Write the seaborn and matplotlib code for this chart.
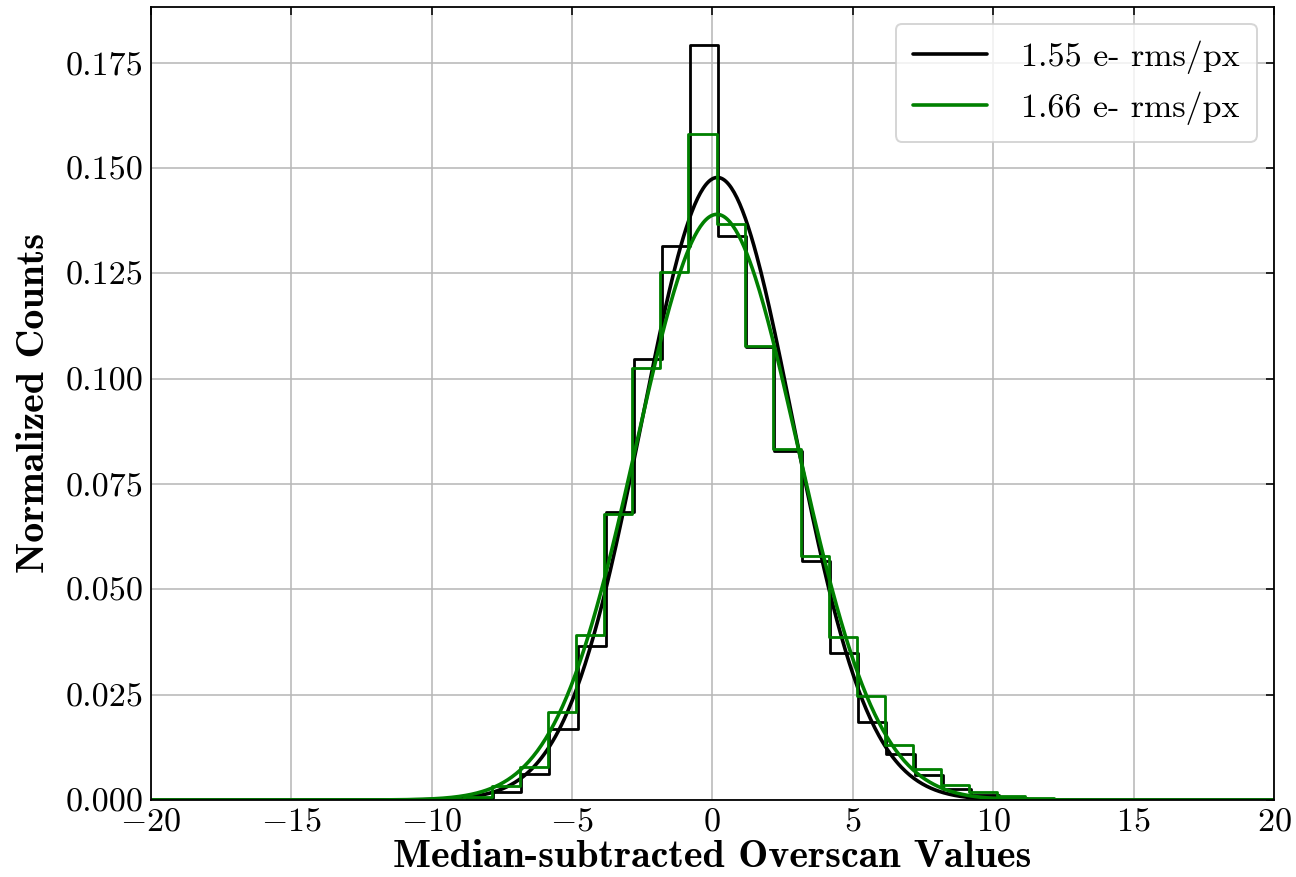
import numpy as np
import matplotlib
matplotlib.use("Agg")
import matplotlib.pyplot as plt
import seaborn as sns

# histogram bin heights (bin width 1, offset edges)
black_start = -9.8
black_heights = [0.0001, 0.0004, 0.0018, 0.0062, 0.0168, 0.0365, 0.0684, 0.1046,
                 0.1315, 0.1792, 0.1339, 0.1076, 0.0828, 0.0568, 0.0350, 0.0184,
                 0.0109, 0.0059, 0.0025, 0.0012, 0.0004, 0.0001]
green_start = -9.85
green_heights = [0.0002, 0.0008, 0.0034, 0.0078, 0.0208, 0.0391, 0.0678, 0.1026,
                 0.1254, 0.1580, 0.1367, 0.1077, 0.0832, 0.0580, 0.0386, 0.0247,
                 0.0131, 0.0074, 0.0036, 0.0018, 0.0010, 0.0004]

# gaussian fits (mean, sigma) and legend labels
black_fit = (0.18, 2.70)
green_fit = (0.16, 2.87)
labels = ['1.55 e- rms/px', '1.66 e- rms/px']

sns.set_style('white')
plt.rcParams['font.family'] = ['cmr10', 'DejaVu Serif']
plt.rcParams['mathtext.fontset'] = 'cm'
plt.rcParams['axes.formatter.use_mathtext'] = True
plt.rcParams['font.size'] = 18
plt.rcParams['axes.unicode_minus'] = True
for k in ['text.color', 'axes.labelcolor', 'xtick.color', 'ytick.color']:
    plt.rcParams[k] = 'black'


def full_bins(start, heights):
    # pad with empty bins so the step line runs along the whole axis
    n_left = int(np.floor(start + 20))
    lo = start - n_left
    h = np.zeros(40)
    h[n_left:n_left + len(heights)] = heights
    centers = lo + 0.5 + np.arange(40)
    return lo, centers, h


fig = plt.figure(figsize=(9, 877 / 144), dpi=144)
ax = fig.add_axes([0.1163, 0.0878, 0.9830 - 0.1163, 0.9924 - 0.0878])

xs = np.linspace(-20, 20, 800)
for start, heights, (mu, sig), col, lab in [
        (black_start, black_heights, black_fit, 'black', labels[0]),
        (green_start, green_heights, green_fit, 'green', labels[1])]:
    lo, centers, h = full_bins(start, heights)
    sns.histplot(x=centers, weights=h, binwidth=1.0, binrange=(lo, lo + 40),
                 element='step', fill=False, color=col, linewidth=1.4, ax=ax)
    g = np.exp(-(xs - mu) ** 2 / (2 * sig ** 2)) / (sig * np.sqrt(2 * np.pi))
    sns.lineplot(x=xs, y=g, color=col, linewidth=1.8, label=lab, ax=ax)

ax.set_xlim(-20, 20)
ax.set_ylim(0, 0.1883)
ax.set_yticks(np.arange(0, 0.176, 0.025))
ax.set_xticks(np.arange(-20, 21, 5))
ax.yaxis.set_major_formatter(matplotlib.ticker.FormatStrFormatter('%.3f'))
ax.grid(True, color='#b8b8b8', linewidth=0.8)
ax.set_axisbelow(True)
ax.tick_params(direction='in', top=True, right=True, length=4, width=0.8, labelsize=17)
for s in ax.spines.values():
    s.set_linewidth(0.9)
    s.set_color('black')

ax.set_xlabel('Median-subtracted Overscan Values', fontfamily='cmb10', fontsize=20, labelpad=2)
ax.set_ylabel('Normalized Counts', fontfamily='cmb10', fontsize=20, labelpad=7)
ax.legend(loc='upper right', fontsize=17, frameon=True, fancybox=True, framealpha=0.8,
          edgecolor='#cccccc', handlelength=2.2, borderpad=0.5, handletextpad=1.0)

fig.savefig('out.png', dpi=144)
